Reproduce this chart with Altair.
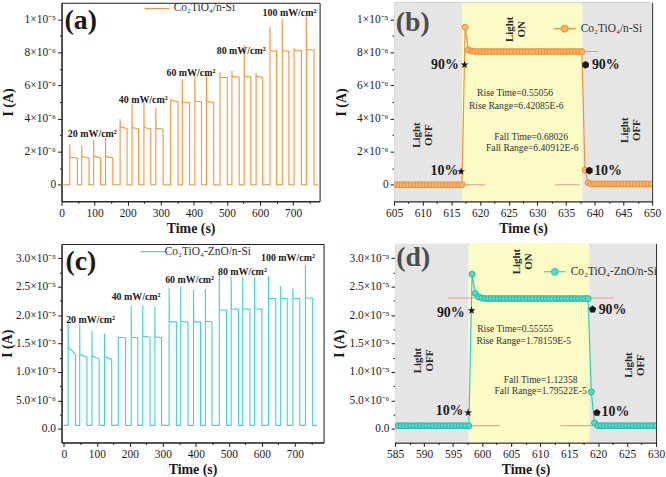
import json

import altair as alt
import pandas as pd

FONT = "Liberation Serif"
INK = "#1a1a1a"
NOTE = "#333333"
OFF_GRAY = "#e5e5e5"
ON_YELLOW = "#fbfbc6"
REF_RED = "#f09090"

# unit-square marker / legend paths
STAR = ("M0,-1L0.235,-0.324L0.951,-0.309L0.38,0.124L0.588,0.809L0,0.4"
        "L-0.588,0.809L-0.38,0.124L-0.951,-0.309L-0.235,-0.324Z")
HEXAGON = "M0,-1L0.866,-0.5L0.866,0.5L0,1L-0.866,0.5L-0.866,-0.5Z"
PENTAGON = "M0,-1L0.951,-0.309L0.588,0.809L-0.588,0.809L-0.951,-0.309Z"
LINE_DOT = "M-1,0L-0.3,0M0.3,0L1,0M-0.3,0A0.3,0.3,0,1,0,0.3,0A0.3,0.3,0,1,0,-0.3,0Z"
LONG_STROKE = "M-3.125,0L3.125,0"

# ---------------------------------------------------------------------------
# (a) Co2TiO4/n-Si : on/off cycles at 20, 40, 60, 80, 100 mW/cm^2 (current in 1e-6 A)
a_name = "Co₂TiO₄/n-Si"
a_on = [25, 61, 97, 133, 177, 213, 249, 285, 330, 365,
        403, 438, 479, 515, 552, 588, 630, 667, 703, 740]
a_off = [48, 83, 118, 155, 198, 233, 270, 307, 352, 387,
         423, 460, 501, 537, 572, 608, 650, 687, 725, 763]
a_peak = [2.45, 2.38, 2.70, 2.86, 3.96, 4.88, 4.94, 4.66, 5.12, 6.37,
          6.75, 6.68, 6.80, 6.90, 8.47, 6.76, 9.55, 10.05, 8.25, 10.15]
a_first = [1.68, 1.70, 1.72, 1.72, 3.49, 3.46, 3.46, 3.42, 5.10, 5.00,
           5.06, 5.03, 6.50, 6.55, 6.56, 6.55, 8.10, 8.10, 8.15, 8.17]
a_last = [1.60, 1.61, 1.63, 1.62, 3.40, 3.38, 3.38, 3.35, 5.02, 4.96,
          5.00, 4.98, 6.48, 6.50, 6.52, 6.48, 8.08, 8.08, 8.12, 8.15]
a_dark = 0.0
a_record = [0, 775]
a_int_text = ["20 mW/cm²", "40 mW/cm²", "60 mW/cm²", "80 mW/cm²", "100 mW/cm²"]
a_int_t = [93, 247, 391, 543, 689]
a_int_i = [3.07, 5.1, 6.75, 8.07, 10.4]

# (c) Co2TiO4-ZnO/n-Si : same protocol
c_name = "Co₂TiO₄-ZnO/n-Si"
c_on = [13, 48, 85, 123, 165, 204, 239, 276, 319, 354,
        393, 429, 471, 507, 542, 578, 620, 657, 694, 732]
c_off = [35, 70, 107, 145, 187, 224, 261, 296, 341, 376,
         414, 449, 493, 529, 564, 600, 642, 677, 715, 754]
c_peak = [19.0, 18.4, 17.3, 16.7, 16.2, 21.6, 21.6, 21.6, 24.8, 25.0,
          24.4, 24.6, 27.7, 26.8, 26.7, 26.7, 26.9, 25.1, 24.7, 28.7]
c_first = [14.3, 13.1, 12.8, 12.7, 16.1, 16.1, 16.3, 16.2, 18.8, 18.9,
           18.8, 18.9, 20.9, 21.1, 21.1, 21.1, 22.9, 22.9, 22.9, 23.0]
c_last = [13.1, 12.6, 12.3, 12.2, 16.0, 16.0, 16.1, 16.0, 18.8, 18.8,
          18.8, 18.8, 20.9, 21.0, 21.0, 21.0, 22.9, 22.9, 22.9, 23.0]
c_dark = 0.6
c_record = [0, 767]
c_int_text = ["20 mW/cm²", "40 mW/cm²", "60 mW/cm²", "80 mW/cm²", "100 mW/cm²"]
c_int_t = [81, 219, 381, 541, 679]
c_int_i = [19.2, 23.1, 26.2, 27.5, 30.1]

# (b) single 100 mW/cm^2 pulse of Co2TiO4/n-Si, sampled every b_dt seconds
b_t0, b_dt = 605.3, 0.55
b_i = [
    0.0, 0.0, 0.0, 0.0, 0.0, 0.0, 0.0, 0.0, 0.0, 0.0, 0.0,
    0.0, 0.0, 0.0, 0.0, 0.0, 0.0, 0.0, 0.0, 0.0, 0.0, 0.0,
    9.52, 8.15, 8.08,
    8.05, 8.05, 8.05, 8.05, 8.05, 8.05, 8.05,
    8.05, 8.05, 8.05, 8.05, 8.05, 8.05, 8.05,
    8.05, 8.05, 8.05, 8.05, 8.05, 8.05, 8.05,
    8.05, 8.05, 8.05, 8.05, 8.05, 8.05, 8.05,
    8.05, 8.05, 8.05, 8.05, 8.05, 8.05, 8.05,
    0.88, 0.12,
    0.05, 0.05, 0.05, 0.05, 0.05, 0.05, 0.05, 0.05, 0.05, 0.05,
    0.05, 0.05, 0.05, 0.05, 0.05, 0.05, 0.05, 0.05, 0.05, 0.05,
]
b_edges = [605, 616.86, 637.85, 650]
b_states = ["off", "on", "off"]
b_ref_t0 = [617.7, 616.8, 633.1]
b_ref_t1 = [640.6, 620.9, 637.4]
b_ref_i = [8.05, 0.0, 0.0]
b_rise_t, b_rise_i = [617.3, 616.7], [7.25, 0.8]
b_fall_t, b_fall_i = [638.4, 639.05], [7.25, 0.85]
b_pct_left = (["90%", "10%"], [616.3, 616.2], [7.25, 0.8])
b_pct_right = (["90%", "10%"], [639.5, 639.9], [7.25, 0.8])
b_notes = (["Rise Time=0.55056", "Rise Range=6.42085E-6",
            "Fall Time=0.68026", "Fall Range=6.40912E-6"],
           [626.1, 626.3, 628.9, 629.1], [5.54, 4.76, 2.89, 2.19])
b_light = (["Light\nON", "Light\nOFF", "Light\nOFF"],
           [625.2, 609.0, 645.3], [9.4, 3.0, 3.3])

# (d) single 100 mW/cm^2 pulse of Co2TiO4-ZnO/n-Si
d_t0, d_dt = 585.5, 0.5556
d_i = [
    0.55, 0.55, 0.55, 0.55, 0.55, 0.55, 0.55, 0.55, 0.55, 0.55, 0.55, 0.55,
    0.55, 0.55, 0.55, 0.55, 0.55, 0.55, 0.55, 0.55, 0.55, 0.55, 0.55,
    27.2, 23.8, 23.2, 23.0,
    22.9, 22.9, 22.9, 22.9, 22.9, 22.9, 22.9, 22.9, 22.9, 22.9, 22.9,
    22.9, 22.9, 22.9, 22.9, 22.9, 22.9, 22.9, 22.9, 22.9, 22.9, 22.9,
    22.9, 22.9, 22.9, 22.9, 22.9, 22.9, 22.9, 22.9, 22.9, 22.9, 22.9,
    6.5, 1.05,
    0.55, 0.55, 0.55, 0.55, 0.55, 0.55, 0.55, 0.55, 0.55, 0.55,
    0.55, 0.55, 0.55, 0.55, 0.55, 0.55, 0.55, 0.55, 0.55,
]
d_edges = [585, 597.7, 618.5, 630]
d_states = ["off", "on", "off"]
d_ref_t0 = [594.1, 597.6, 613.5]
d_ref_t1 = [622.8, 603.0, 619.8]
d_ref_i = [23.0, 0.55, 0.55]
d_rise_t, d_rise_i = [598.2, 597.6], [20.8, 2.83]
d_fall_t, d_fall_i = [619.05, 619.8], [21.0, 2.83]
d_pct_left = (["90%", "10%"], [597.0, 596.8], [20.4, 3.1])
d_pct_right = (["90%", "10%"], [620.1, 620.6], [20.9, 2.9])
d_notes = (["Rise Time=0.55555", "Rise Range=1.78159E-5",
            "Fall Time=1.12358", "Fall Range=1.79522E-5"],
           [605.7, 607.2, 610.1, 610.1], [17.5, 15.4, 8.66, 6.7])
d_light = (["Light\nON", "Light\nOFF", "Light\nOFF"],
           [606.1, 588.9, 625.4], [29.4, 12.0, 11.2])

# y tick labels (majors); one unlabelled minor tick between majors
y_labels_small = ["0", "2×10⁻⁶", "4×10⁻⁶", "6×10⁻⁶", "8×10⁻⁶", "1×10⁻⁵"]
y_labels_large = ["0.0", "5.0×10⁻⁶", "1.0×10⁻⁵", "1.5×10⁻⁵",
                  "2.0×10⁻⁵", "2.5×10⁻⁵", "3.0×10⁻⁵"]

X_TITLE = "Time (s)"
Y_TITLE = "I (A)"


def y_axis(labels, major_e6, ext, tpad):
    half = major_e6 / 2
    vals = [k * half * 1e-6 for k in range(2 * (len(labels) - 1) + 1)]
    idx = f"round(datum.value * 1e6 / {half})"
    return alt.Axis(
        values=vals, tickCount=100,
        labelExpr=f"{idx} % 2 == 0 ? {json.dumps(labels, ensure_ascii=False)}[{idx} / 2] : ''",
        tickSize={"condition": {"test": f"{idx} % 2 == 0", "value": 4}, "value": 2},
        minExtent=ext, maxExtent=ext, titlePadding=tpad, labelPadding=2,
        labelOverlap=False,
    )


def x_axis(first, last, major, minor):
    n = int(round((last - first) / minor))
    vals = [first + k * minor for k in range(n + 1)]
    test = f"abs(datum.value - {first}) % {major} == 0"
    return alt.Axis(
        values=vals, tickCount=100,
        labelExpr=f"{test} ? format(datum.value, 'd') : ''",
        tickSize={"condition": {"test": test, "value": 4}, "value": 2},
        labelFlush=False, labelOverlap=False, labelPadding=2, titlePadding=3,
    )


def pulse_trace(name, record, dark, on, off, peak, first, last):
    t, v = [record[0]], [dark]
    for k in range(len(on)):
        t += [on[k], on[k], on[k] + 0.7, off[k], off[k]]
        v += [dark, peak[k], first[k], last[k], dark]
    t.append(record[1])
    v.append(dark)
    return pd.DataFrame({"t": t, "I": [x * 1e-6 for x in v],
                         "k": list(range(len(t))), "series": name})


def text_df(texts, ts, vals):
    return pd.DataFrame({"t": ts, "I": [x * 1e-6 for x in vals], "text": texts})


def xy(xs, ys, xf="t", yf="I"):
    return dict(x=alt.X(f"{xf}:Q", scale=xs, title=X_TITLE),
                y=alt.Y(f"{yf}:Q", scale=ys, title=Y_TITLE))


def legend(x, y, symbol, size, label_offset, fill=None):
    opts = dict(orient="none", legendX=x, legendY=y, symbolType=symbol, symbolSize=size,
                symbolStrokeWidth=1.2, labelFont=FONT, labelFontSize=11.5,
                labelColor=NOTE, labelOffset=label_offset, padding=0)
    if fill:
        opts["symbolFillColor"] = fill
    return alt.Legend(**opts)


def sweep_panel(name, color, trace, xdom, ydom, xaxis, yaxis, ints, tag, leg,
                width, height):
    xs = alt.Scale(domain=xdom, nice=False, zero=False)
    ys = alt.Scale(domain=ydom, nice=False, zero=False)
    line = alt.Chart(trace).mark_line(strokeWidth=1.1, clip=True).encode(
        x=alt.X("t:Q", scale=xs, axis=xaxis, title=X_TITLE),
        y=alt.Y("I:Q", scale=ys, axis=yaxis, title=Y_TITLE),
        order="k:Q",
        color=alt.Color(
            "series:N", title=None,
            scale=alt.Scale(domain=[name], range=[color]),
            legend=legend(leg[0], leg[1], LONG_STROKE, 64, leg[2]),
        ),
    )
    int_layer = alt.Chart(text_df(*ints)).mark_text(
        font=FONT, fontSize=10, fontWeight="bold", color=INK
    ).encode(text="text:N", **xy(xs, ys))
    tag_layer = alt.Chart(text_df(*tag)).mark_text(
        font=FONT, fontSize=28, fontWeight="bold", color=INK, align="left", baseline="middle"
    ).encode(text="text:N", **xy(xs, ys))
    return alt.layer(line, int_layer, tag_layer).properties(width=width, height=height)


def zoom_panel(name, line_color, dot_fill, dot_stroke, t0, dt, vals, edges, states,
               ref, rise, fall, fall_shape, pct_left, pct_right, notes, light, tag, tag_color,
               xdom, ydom, xaxis, yaxis, leg, width, height):
    xs = alt.Scale(domain=xdom, nice=False, zero=False)
    ys = alt.Scale(domain=ydom, nice=False, zero=False)
    trace = pd.DataFrame({"t": [t0 + k * dt for k in range(len(vals))],
                          "I": [v * 1e-6 for v in vals], "series": name})
    bands = pd.DataFrame({"t0": edges[:-1], "t1": edges[1:], "state": states,
                          "lo": ydom[0], "hi": ydom[1]})
    band_layer = alt.Chart(bands).mark_rect().encode(
        x2="t1:Q", y2="hi:Q",
        fill=alt.Fill("state:N", scale=alt.Scale(domain=["off", "on"],
                                                 range=[OFF_GRAY, ON_YELLOW]), legend=None),
        **xy(xs, ys, "t0", "lo"),
    )
    refs = pd.DataFrame({"t0": ref[0], "t1": ref[1], "I": [v * 1e-6 for v in ref[2]]})
    ref_layer = alt.Chart(refs).mark_rule(color=REF_RED, strokeWidth=1).encode(
        x2="t1:Q", **xy(xs, ys, "t0", "I"),
    )
    line = alt.Chart(trace).mark_line(strokeWidth=1.2, clip=True).encode(
        x=alt.X("t:Q", scale=xs, axis=xaxis, title=X_TITLE),
        y=alt.Y("I:Q", scale=ys, axis=yaxis, title=Y_TITLE),
        color=alt.Color(
            "series:N", title=None,
            scale=alt.Scale(domain=[name], range=[line_color]),
            legend=legend(leg[0], leg[1], LINE_DOT, 484, 4, dot_fill),
        ),
    )
    dots = alt.Chart(trace).mark_point(
        shape="circle", filled=True, fill=dot_fill, stroke=dot_stroke, strokeWidth=0.9,
        size=36, opacity=1, clip=True,
    ).encode(**xy(xs, ys))
    rise_layer = alt.Chart(pd.DataFrame({"t": rise[0], "I": [v * 1e-6 for v in rise[1]]})).mark_point(
        shape=STAR, filled=True, color=INK, size=70, opacity=1
    ).encode(**xy(xs, ys))
    fall_layer = alt.Chart(pd.DataFrame({"t": fall[0], "I": [v * 1e-6 for v in fall[1]]})).mark_point(
        shape=fall_shape, filled=True, color=INK, size=60, opacity=1
    ).encode(**xy(xs, ys))
    pct_l = alt.Chart(text_df(*pct_left)).mark_text(
        font=FONT, fontSize=14, fontWeight="bold", color=INK, align="right", baseline="middle"
    ).encode(text="text:N", **xy(xs, ys))
    pct_r = alt.Chart(text_df(*pct_right)).mark_text(
        font=FONT, fontSize=14, fontWeight="bold", color=INK, align="left", baseline="middle"
    ).encode(text="text:N", **xy(xs, ys))
    note_layer = alt.Chart(text_df(*notes)).mark_text(
        font=FONT, fontSize=9.7, color=NOTE, align="center", baseline="middle"
    ).encode(text="text:N", **xy(xs, ys))
    light_layer = alt.Chart(text_df(*light)).mark_text(
        font=FONT, fontSize=11, fontWeight="bold", color="#2a2a2a", angle=270,
        lineBreak="\n", align="center", baseline="middle", lineHeight=12,
    ).encode(text="text:N", **xy(xs, ys))
    tag_layer = alt.Chart(text_df(*tag)).mark_text(
        font=FONT, fontSize=28, fontWeight="bold", color=tag_color, align="left", baseline="middle"
    ).encode(text="text:N", **xy(xs, ys))
    return alt.layer(
        band_layer, ref_layer, line, dots, rise_layer, fall_layer,
        pct_l, pct_r, note_layer, light_layer, tag_layer,
    ).properties(width=width, height=height)


A_Y = [-1.0e-6, 1.1e-5]
C_Y = [-2.4e-6, 3.25e-5]

panel_a = sweep_panel(
    a_name, "#f5943b",
    pulse_trace(a_name, a_record, a_dark, a_on, a_off, a_peak, a_first, a_last),
    [0, 780], A_Y, x_axis(0, 750, 100, 50), y_axis(y_labels_small, 2, 42, 4),
    (a_int_text, a_int_t, a_int_i), (["(a)"], [9], [9.88]), (90.5, 0, 11), 260, 200,
)
panel_c = sweep_panel(
    c_name, "#3fd4d2",
    pulse_trace(c_name, c_record, c_dark, c_on, c_off, c_peak, c_first, c_last),
    [-7, 787], C_Y, x_axis(0, 750, 100, 50), y_axis(y_labels_large, 5, 46, 1),
    (c_int_text, c_int_t, c_int_i), (["(c)"], [5], [29.4]), (86.5, 2, 6), 264, 200,
)
panel_b = zoom_panel(
    a_name, "#f29232", "#fbb66c", "#ec8526", b_t0, b_dt, b_i, b_edges, b_states,
    (b_ref_t0, b_ref_t1, b_ref_i), (b_rise_t, b_rise_i), (b_fall_t, b_fall_i), HEXAGON,
    b_pct_left, b_pct_right, b_notes, b_light, (["(b)"], [605.3], [9.8]), "#4d4d4d",
    [605, 650], A_Y, x_axis(605, 650, 5, 2.5), y_axis(y_labels_small, 2, 42, 4),
    (160, 14), 260, 200,
)
panel_d = zoom_panel(
    c_name, "#2fcdb8", "#52dcc8", "#1fae9e", d_t0, d_dt, d_i, d_edges, d_states,
    (d_ref_t0, d_ref_t1, d_ref_i), (d_rise_t, d_rise_i), (d_fall_t, d_fall_i), PENTAGON,
    d_pct_left, d_pct_right, d_notes, d_light, (["(d)"], [585.2], [30.0]), "#4d4d4d",
    [585, 630], C_Y, x_axis(585, 630, 5, 2.5), y_axis(y_labels_large, 5, 46, 3),
    (149, 16), 263, 200,
)

top = alt.hconcat(panel_a, panel_b, spacing=13).resolve_scale(
    color="independent", fill="independent").resolve_legend(color="independent")
bottom = alt.hconcat(panel_c, panel_d, spacing=7).resolve_scale(
    color="independent", fill="independent").resolve_legend(color="independent")

chart = (
    alt.vconcat(top, bottom, spacing=7)
    .resolve_scale(color="independent", fill="independent")
    .resolve_legend(color="independent")
    .properties(padding={"left": 0, "top": 0, "right": 0, "bottom": 0}, background="white")
    .configure_view(stroke=INK, strokeWidth=1)
    .configure_axis(
        grid=False, domainColor=INK, tickColor=INK, labelColor=INK, titleColor=INK,
        labelFont=FONT, labelFontSize=11.5, titleFont=FONT, titleFontSize=14,
        titleFontWeight="bold",
    )
)

chart.save("out.html", embed_options={"renderer": "svg", "actions": False})
